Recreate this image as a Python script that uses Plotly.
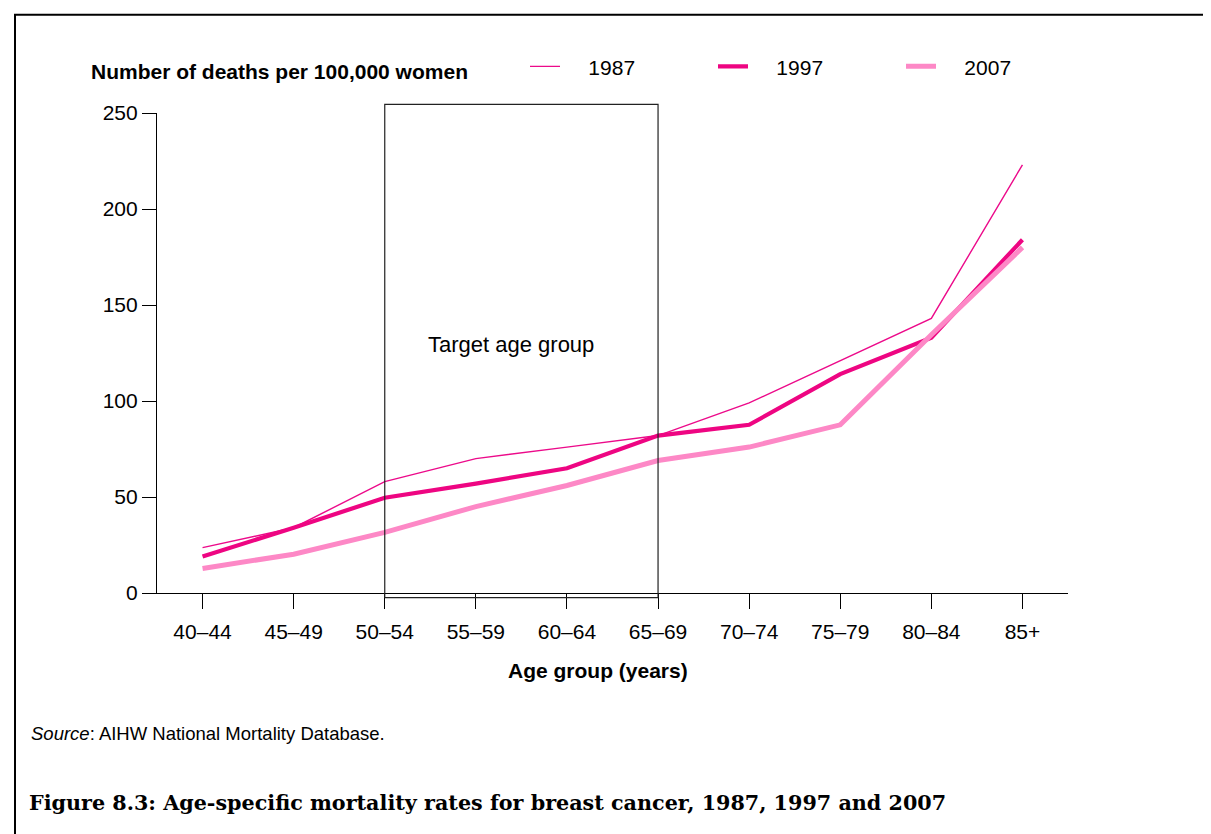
import plotly.graph_objects as go

age_groups = ["40–44", "45–49", "50–54", "55–59", "60–64", "65–69", "70–74", "75–79", "80–84", "85+"]
rates_1987 = [23.6, 34, 58, 70, 76, 82, 99, 121, 143, 223]
rates_1997 = [19, 34, 49.6, 57, 65, 82, 87.6, 114, 133, 184]
rates_2007 = [12.8, 20.2, 31.6, 45, 56, 69, 76, 87.6, 134.5, 180]
y_ticks = [0, 50, 100, 150, 200, 250]

FONT = "Liberation Sans"
pad = "\u00a0" * 4

fig = go.Figure()
fig.add_trace(go.Scatter(x=age_groups, y=rates_1987, mode="lines", name=pad + "1987",
                         line=dict(color="#EC0A8A", width=1.4)))
fig.add_trace(go.Scatter(x=age_groups, y=rates_1997, mode="lines", name=pad + "1997",
                         line=dict(color="#EE0582", width=4.2)))
fig.add_trace(go.Scatter(x=age_groups, y=rates_2007, mode="lines", name=pad + "2007",
                         line=dict(color="#FD88C6", width=5)))

# page offset of the figure (body margin)
OFF = 8
W, H = 1211 - OFF, 834 - OFF
# plot area in reference pixel coordinates
PL, PR, PT, PB = 157, 1068, 113.3, 593.3
L, T = PL - OFF, PT - OFF
R = W - (PR - OFF)
B = H - (PB - OFF)

def px(x):
    return (x - PL) / (PR - PL)

def py(y):
    return (PB - y) / (PB - PT)

# target age group box
fig.add_shape(type="rect", xref="x", yref="paper", x0=2, x1=5, y0=py(598), y1=py(104.7),
              line=dict(color="#222222", width=1.2), fillcolor="rgba(0,0,0,0)", layer="above")
# outer frame
fig.add_shape(type="rect", xref="paper", yref="paper", x0=px(15), x1=px(1240), y0=py(870), y1=py(15),
              line=dict(color="#000000", width=2), fillcolor="rgba(0,0,0,0)")

fig.add_annotation(x=3.39, y=129.5, xref="x", yref="y", text="Target age group", showarrow=False,
                   font=dict(family=FONT, size=22, color="#000000"))
fig.add_annotation(x=px(89), y=py(72), xref="paper", yref="paper", xanchor="left", yanchor="middle",
                   text="<b>Number of deaths per 100,000 women</b>", showarrow=False,
                   font=dict(family=FONT, size=21, color="#000000"))
fig.add_annotation(x=px(598), y=py(671), xref="paper", yref="paper", xanchor="center", yanchor="middle",
                   text="<b>Age group (years)</b>", showarrow=False,
                   font=dict(family=FONT, size=21, color="#000000"))
fig.add_annotation(x=px(29), y=py(734), xref="paper", yref="paper", xanchor="left", yanchor="middle",
                   text="<i>Source</i>: AIHW National Mortality Database.", showarrow=False,
                   font=dict(family=FONT, size=18.5, color="#000000"))
fig.add_annotation(x=px(27), y=py(803), xref="paper", yref="paper", xanchor="left", yanchor="middle",
                   text="<b>Figure 8.3: Age-specific mortality rates for breast cancer, 1987, 1997 and 2007</b>",
                   showarrow=False, font=dict(family="DejaVu Serif", size=20.7, color="#000000"))

fig.update_layout(
    width=W, height=H,
    margin=dict(l=L, r=R, t=T, b=B),
    paper_bgcolor="white", plot_bgcolor="white",
    font=dict(family=FONT, size=21, color="#000000"),
    showlegend=True,
    legend=dict(orientation="h", x=px(525), y=py(67), xanchor="left", yanchor="middle",
                font=dict(family=FONT, size=21, color="#000000"),
                entrywidth=143, entrywidthmode="pixels", bgcolor="rgba(0,0,0,0)"),
    xaxis=dict(range=[-0.5, 9.5], showgrid=False, zeroline=False, showline=True,
               linecolor="#000000", linewidth=1.2, ticks="outside", ticklen=15,
               tickcolor="#000000", tickwidth=1.2, tickfont=dict(size=21),
               ticklabelstandoff=5, fixedrange=True),
    yaxis=dict(range=[0, 250], tickvals=y_ticks, showgrid=False, zeroline=False, showline=True,
               linecolor="#000000", linewidth=1.2, ticks="outside", ticklen=14,
               tickcolor="#000000", tickwidth=1.2, tickfont=dict(size=21), fixedrange=True),
)

fig.write_html("out.html")
